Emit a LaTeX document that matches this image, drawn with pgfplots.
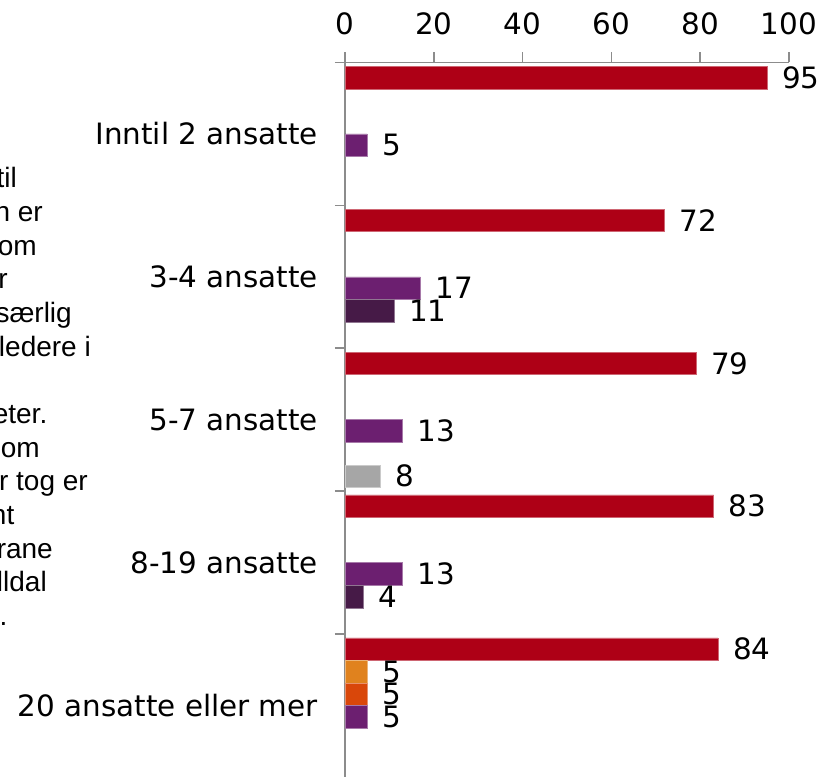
\documentclass[border=0pt]{standalone}
\usepackage{fontspec}
\setmainfont{DejaVu Sans}
\newfontfamily\arialfont{Liberation Sans}
\usepackage{pgfplots}
\pgfplotsset{compat=1.18}

\definecolor{cRed}{HTML}{AE0016}
\definecolor{cOrange}{HTML}{E0821E}
\definecolor{cDarkOrange}{HTML}{D9470A}
\definecolor{cPurple}{HTML}{6C1F70}
\definecolor{cDarkPurple}{HTML}{461A47}
\definecolor{cGray}{HTML}{A6A6A6}
\definecolor{axisgray}{HTML}{8C8C8C}

\newcommand{\chartfont}{\fontsize{29.4}{35}\selectfont}

\begin{document}
\begin{tikzpicture}[x=1pt,y=1pt]
\useasboundingbox (0,0) rectangle (832,776);
\clip (0,0) rectangle (832,776);

% cut-off text box on the left
\begin{scope}[every node/.style={anchor=base east, inner sep=0pt, font=\arialfont\fontsize{28}{34}\selectfont}]
\node at (17,588) {til};
\node at (43,554.35) {n er};
\node at (37,520.7) {om};
\node at (8,487.05) {er};
\node at (72,453.4) {særlig};
\node at (91,419.75) {ledere i};
\node at (47.5,352.45) {eter.};
\node at (40,318.8) {om};
\node at (88,285.15) {er tog er};
\node at (14.5,251.5) {nt};
\node at (53,217.85) {rane};
\node at (47,184.2) {lldal};
\node at (7.5,150.55) {.};
\end{scope}

\begin{axis}[
    at={(345pt,-1pt)}, anchor=south west,
    width=444pt, height=714.5pt, scale only axis,
    xbar, bar width=0.158,
    xmin=0, xmax=100, ymin=-0.5, ymax=4.5,
    axis x line*=top, axis y line*=left,
    axis line style={draw=axisgray, line width=1.6pt},
    every tick/.style={draw=axisgray, line width=1.6pt},
    tick align=outside, major tick length=10pt,
    xtick={0,20,...,100},
    ytick={0.5,1.5,...,4.5}, yticklabels={},
    extra y ticks={0,1,2,3,4},
    extra y tick labels={20 ansatte eller mer,8-19 ansatte,5-7 ansatte,3-4 ansatte,Inntil 2 ansatte},
    extra y tick style={major tick length=0pt},
    tick label style={font=\chartfont},
    /pgf/number format/assume math mode=true,
    yticklabel style={anchor=east, inner sep=0pt, xshift=-27pt},
    xticklabel style={anchor=south, inner sep=0pt, yshift=17pt},
    point meta=x,
    nodes near coords,
    every node near coord/.append style={anchor=west, inner sep=0pt, xshift=15pt, font=\chartfont, text=black},
    clip=false,
]
\addplot[fill=cRed, draw=cRed!60!white, line width=0.5pt, bar shift=0.395]
    coordinates {(95,4) (72,3) (79,2) (83,1) (84,0)};
\addplot[fill=cOrange, draw=cOrange!60!white, line width=0.5pt, bar shift=0.237]
    coordinates {(5,0)};
\addplot[fill=cDarkOrange, draw=cDarkOrange!60!white, line width=0.5pt, bar shift=0.079]
    coordinates {(5,0)};
\addplot[fill=cPurple, draw=cPurple!60!white, line width=0.5pt, bar shift=-0.079]
    coordinates {(5,4) (17,3) (13,2) (13,1) (5,0)};
\addplot[fill=cDarkPurple, draw=cDarkPurple!60!white, line width=0.5pt, bar shift=-0.237]
    coordinates {(11,3) (4,1)};
\addplot[fill=cGray, draw=cGray!60!white, line width=0.5pt, bar shift=-0.395]
    coordinates {(8,2)};
\end{axis}
\end{tikzpicture}
\end{document}
